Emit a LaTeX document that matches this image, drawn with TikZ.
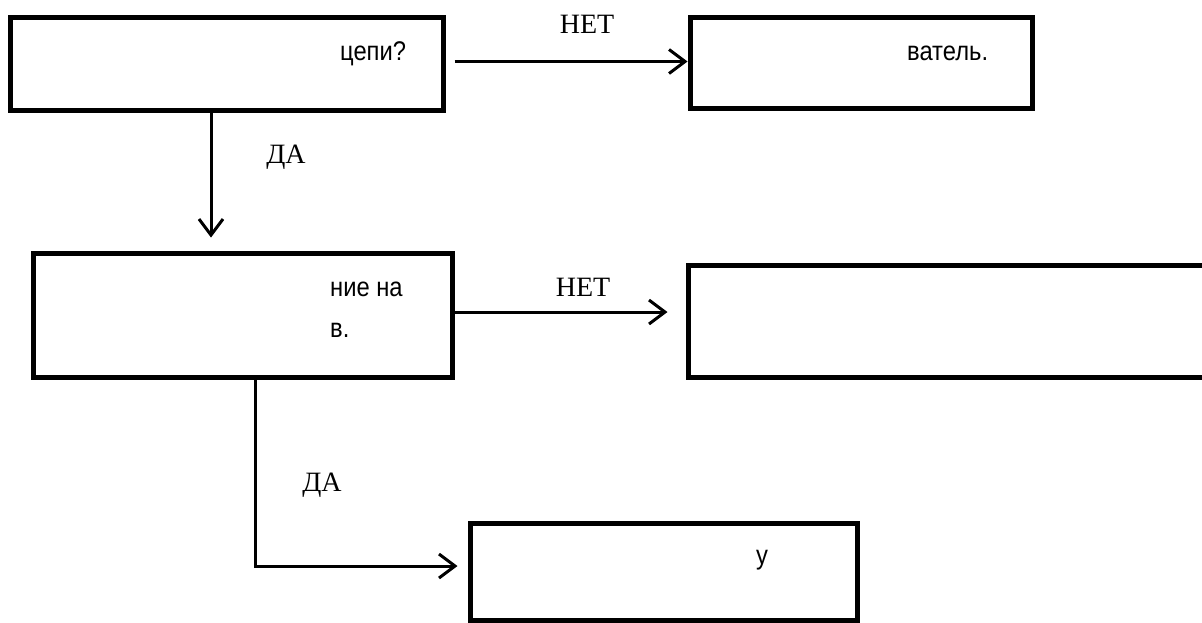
\documentclass[tikz,border=0pt]{standalone}
\usepackage{fontspec}
\setmainfont{Liberation Serif}
\newfontfamily\boxfont{Liberation Sans}
\usetikzlibrary{arrows.meta}
\begin{document}
\begin{tikzpicture}[x=1pt,y=-1pt,
  blk/.style={draw,line width=5pt,rectangle,inner sep=0pt},
  arr/.style={line width=3pt,-{Straight Barb[length=16pt,width=24pt]}},
  lbl/.style={font=\fontsize{28}{32}\selectfont,inner sep=0pt},
  txt/.style={font=\boxfont\fontsize{27}{30}\selectfont,inner sep=0pt,anchor=base west,xscale=0.88}]
\useasboundingbox (0,0) rectangle (1202,622);
\clip (0,0) rectangle (1202,622);
\node[blk,minimum width=433pt,minimum height=93pt] (b1) at (226.5,63.5) {};
\node[blk,minimum width=342pt,minimum height=91pt] (b2) at (861,62.5) {};
\node[blk,minimum width=419pt,minimum height=124pt] (b3) at (242.5,315) {};
\node[blk,minimum width=527pt,minimum height=112pt] (b4) at (951.5,321) {};
\node[blk,minimum width=387pt,minimum height=97pt] (b5) at (663.5,571.5) {};
\node[txt] (t1) at (340,60) {цепи?};
\node[txt] (t2) at (907,60) {ватель.};
\node[txt] (t3a) at (330,296) {ние на};
\node[txt] (t3b) at (330,337) {в.};
\node[txt] (t5) at (756,564) {у};
\node[lbl] (n1) at (587,24) {НЕТ};
\node[lbl] (d1) at (286,157) {ДА};
\node[lbl] (n2) at (583,287) {НЕТ};
\node[lbl] (d2) at (322,485) {ДА};
\draw[arr,shorten <=9pt] ([yshift=2pt]b1.east) -- ([yshift=2pt]b1.east -| b2.west);
\draw[arr,shorten >=13pt] ([xshift=-15.5pt]b1.south) -- ([xshift=-15.5pt]b1.south |- b3.north);
\draw[arr,shorten >=18pt] ([yshift=3pt]b3.east) -- ([yshift=3pt]b3.east -| b4.west);
\draw[arr,shorten >=10pt] ([xshift=12.5pt]b3.south) |- ([yshift=5.5pt]b5.west);
\end{tikzpicture}
\end{document}
